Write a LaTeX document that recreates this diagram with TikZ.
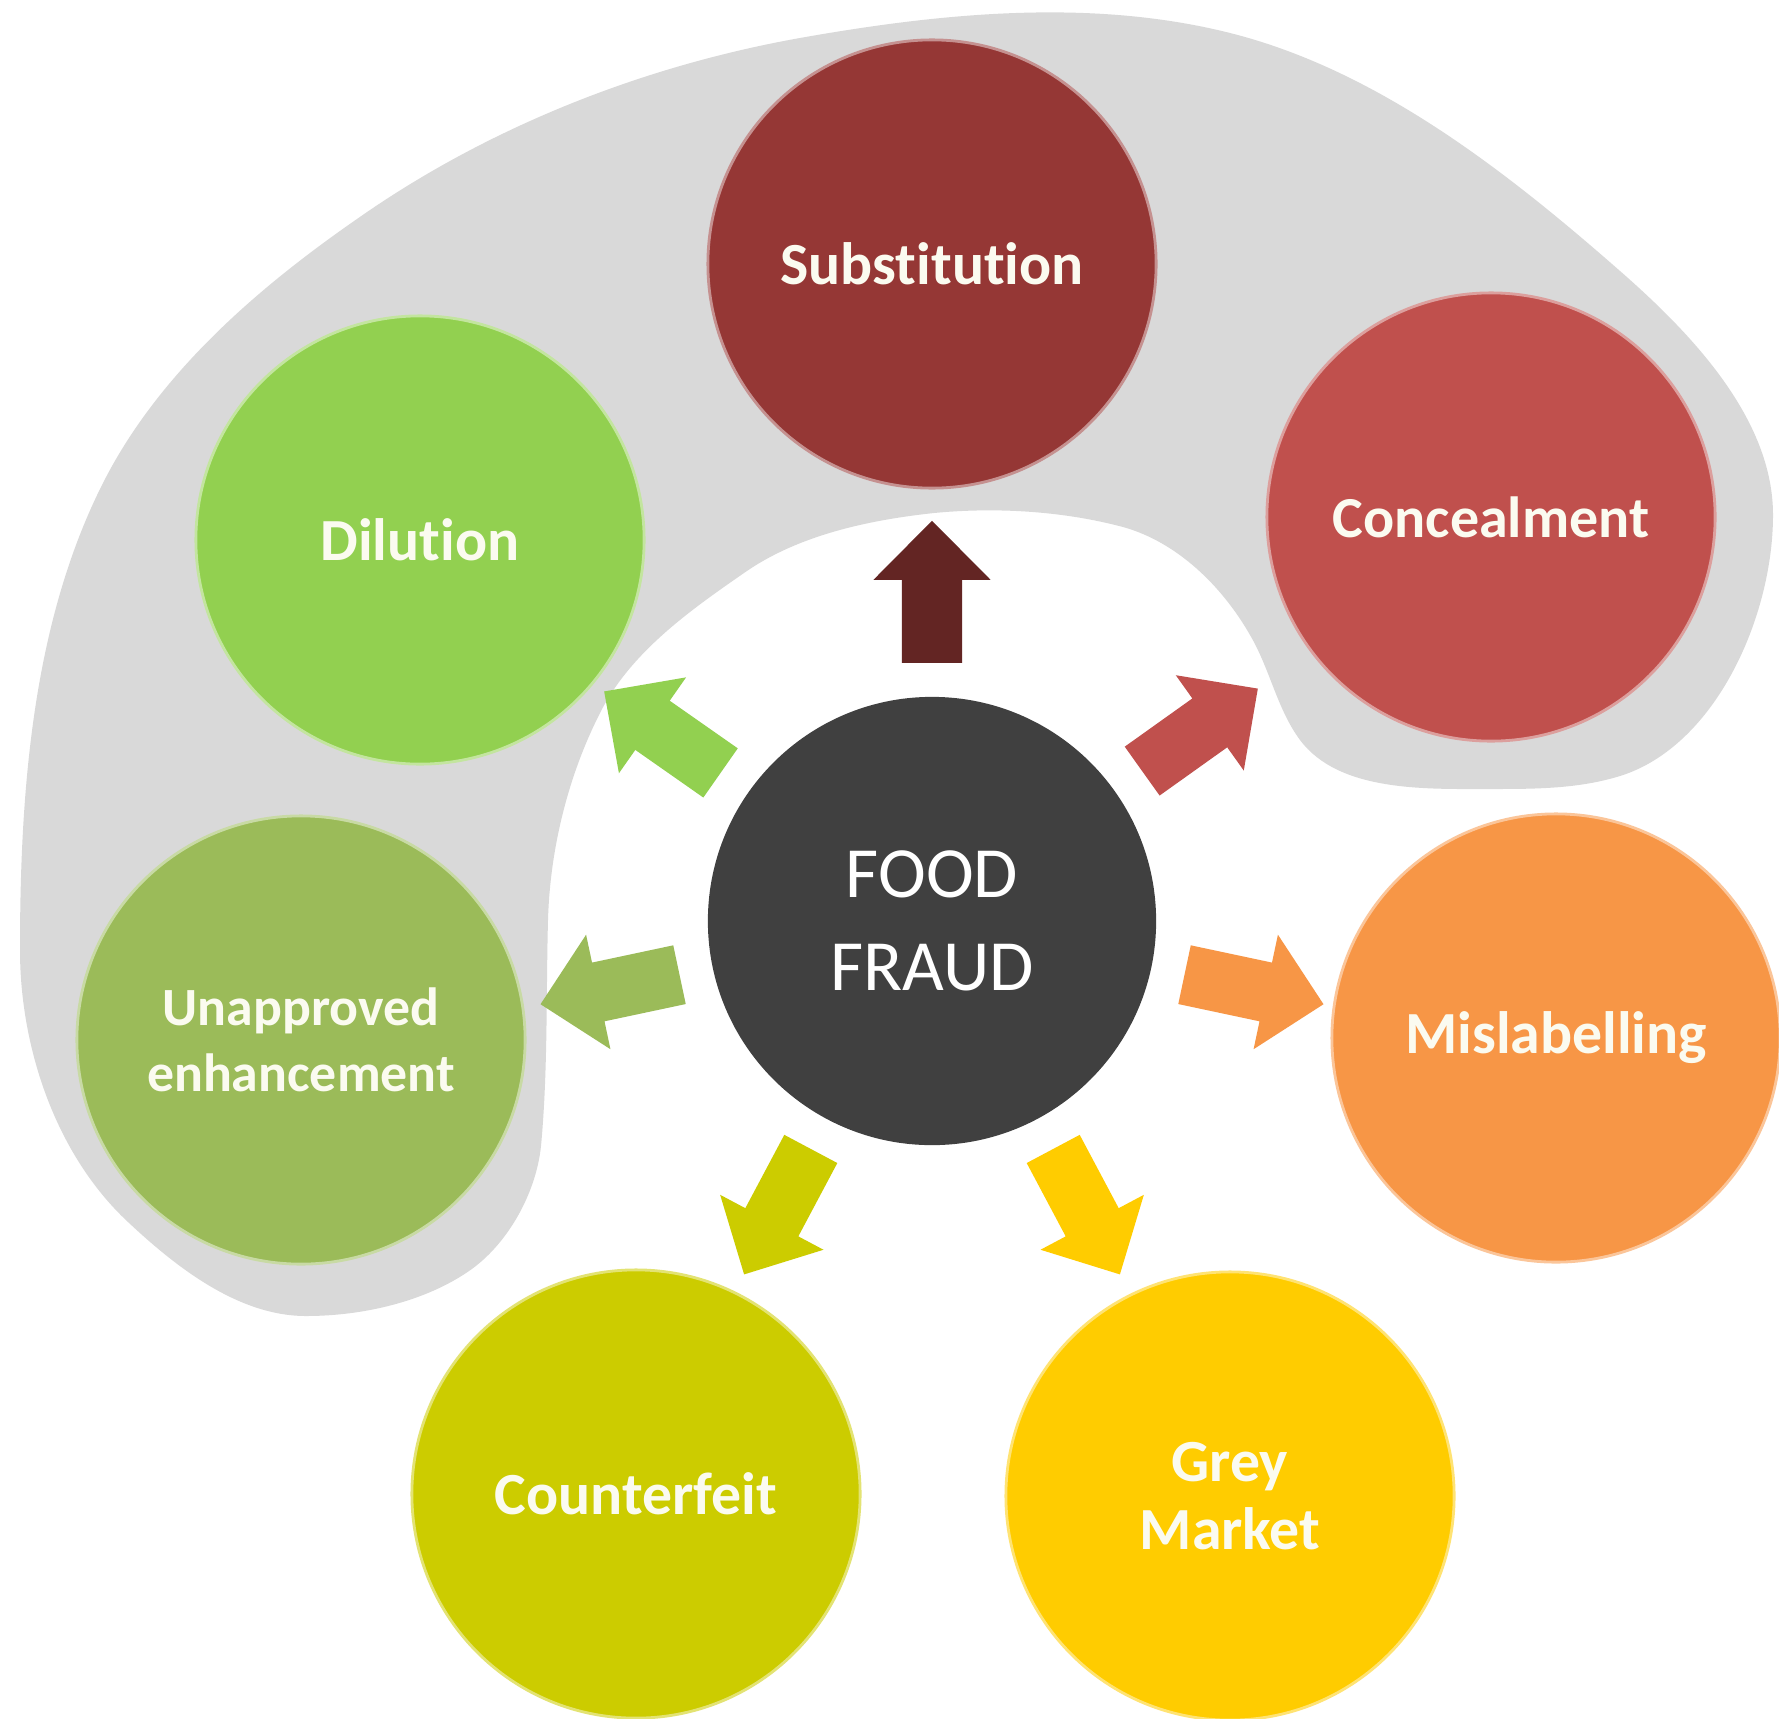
\documentclass[tikz,border=0pt]{standalone}
\usepackage{fontspec}
\setmainfont{Carlito}[Ligatures=NoCommon]
\definecolor{blob}{HTML}{D9D9D9}
\definecolor{csub}{HTML}{953735}
\definecolor{ccon}{HTML}{C0504D}
\definecolor{cdil}{HTML}{92D050}
\definecolor{cuna}{HTML}{9BBB59}
\definecolor{cff}{HTML}{404040}
\definecolor{cmis}{HTML}{F79646}
\definecolor{ccou}{HTML}{CCCC00}
\definecolor{cgre}{HTML}{FFCC00}
\definecolor{arsub}{HTML}{632523}
\definecolor{labtxt}{HTML}{FBFBF0}
\begin{document}
\begin{tikzpicture}[x=0.01cm,y=-0.01cm,
  bub/.style={circle, inner sep=0pt, minimum size=4.48cm, align=center,
    fill=#1, draw=#1!55!white, line width=0.8pt, text=labtxt,
    font=\fontsize{17}{19.5}\selectfont\bfseries},
  center/.style={circle, inner sep=0pt, minimum size=4.48cm, align=center,
    fill=cff, text=white, font=\fontsize{20.5}{26.5}\selectfont}
]
\useasboundingbox (0,0) rectangle (1779,1718);
\fill[white] (0,0) rectangle (1779,1718);
% grey horseshoe background
\fill[blob] (306,1316)
  .. controls (239,1316) and (177,1268) .. (128,1222)
  .. controls (56,1155) and (20,1048) .. (20,950)
  .. controls (20,793) and (32,625) .. (102,485)
  .. controls (157,375) and (256,289) .. (357,219)
  .. controls (488,127) and (643,66) .. (800,38)
  .. controls (941,13) and (1091,-2) .. (1230,33)
  .. controls (1377,70) and (1506,171) .. (1620,271)
  .. controls (1692,334) and (1773,419) .. (1773,515)
  .. controls (1773,616) and (1716,746) .. (1620,776)
  .. controls (1578,789) and (1534,789) .. (1490,789)
  .. controls (1425,789) and (1339,792) .. (1300,740)
  .. controls (1277,709) and (1270,669) .. (1250,635)
  .. controls (1222,586) and (1177,542) .. (1123,527)
  .. controls (1063,511) and (996,507) .. (934,513)
  .. controls (869,520) and (798,535) .. (744,573)
  .. controls (689,611) and (630,653) .. (600,713)
  .. controls (568,776) and (550,849) .. (548,920)
  .. controls (546,995) and (548,1071) .. (541,1146)
  .. controls (536,1194) and (507,1245) .. (469,1271)
  .. controls (424,1302) and (362,1316) .. (306,1316) -- cycle;
% circles
\node[bub=csub] (sub) at (932,264) {Substitution};
\node[bub=ccon, font=\fontsize{16.5}{19.5}\selectfont\bfseries] (con) at (1491,517) {Concealment};
\node[bub=cdil] (dil) at (420,540) {Dilution};
\node[bub=cuna, font=\fontsize{15.3}{18.6}\selectfont\bfseries] (una) at (301,1040) {Unapproved\\enhancement};
\node[center] (ff) at (932,921) {FOOD\\FRAUD};
\node[bub=cmis] (mis) at (1556,1038) {Mislabelling};
\node[bub=ccou] (cou) at (636,1494) {Counterfeit};
\node[bub=cgre] (gre) at (1230,1496) {Grey\\Market};
% block arrows radiating from the centre
\foreach \ang/\col in {90/arsub, 35.5/ccon, 145/cdil, 192/cuna, -12/cmis, -118/ccou, -62/cgre}
  \fill[\col, shift={(ff.center)}, rotate=\ang]
    (2.58cm,-0.30cm) -- (3.41cm,-0.30cm) -- (3.41cm,-0.585cm) -- (4.0cm,0cm)
    -- (3.41cm,0.585cm) -- (3.41cm,0.30cm) -- (2.58cm,0.30cm) -- cycle;
\end{tikzpicture}
\end{document}
